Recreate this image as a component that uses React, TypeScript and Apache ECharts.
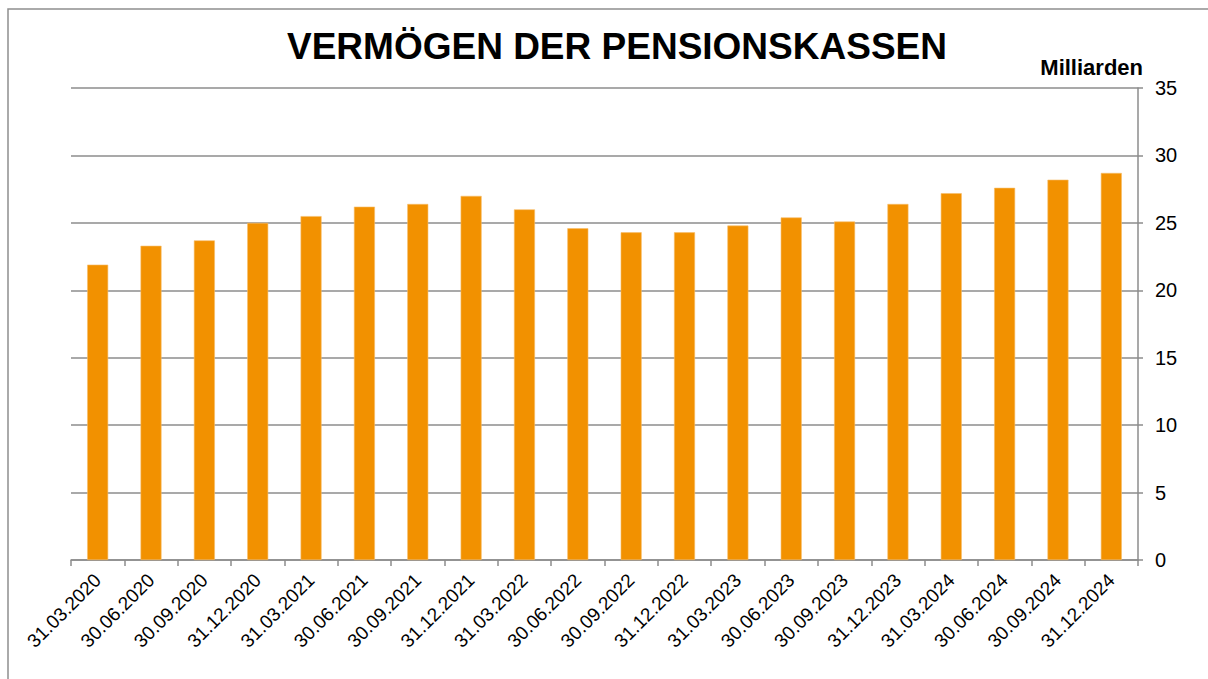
import React, { useEffect, useRef } from "react";
import * as echarts from "echarts";

const categories = [
  "31.03.2020", "30.06.2020", "30.09.2020", "31.12.2020",
  "31.03.2021", "30.06.2021", "30.09.2021", "31.12.2021",
  "31.03.2022", "30.06.2022", "30.09.2022", "31.12.2022",
  "31.03.2023", "30.06.2023", "30.09.2023", "31.12.2023",
  "31.03.2024", "30.06.2024", "30.09.2024", "31.12.2024",
];

const values = [
  21.9, 23.3, 23.7, 25.0,
  25.5, 26.2, 26.4, 27.0,
  26.0, 24.6, 24.3, 24.3,
  24.8, 25.4, 25.1, 26.4,
  27.2, 27.6, 28.2, 28.7,
];

const titleText = "VERMÖGEN DER PENSIONSKASSEN";
const unitText = "Milliarden";

const FONT = "'Liberation Sans', Arial, Helvetica, sans-serif";

export default function App() {
  const ref = useRef<HTMLDivElement>(null);

  useEffect(() => {
    if (!ref.current) return;
    const chart = echarts.init(ref.current, null, { renderer: "svg" });
    chart.setOption({
      animation: false,
      backgroundColor: "#ffffff",
      grid: { left: 71, right: 70, top: 88, bottom: 119, containLabel: false },
      graphic: [
        {
          type: "rect",
          shape: { x: 8, y: 9, width: 1400, height: 1000 },
          style: { fill: "none", stroke: "#8f8f8f", lineWidth: 1.5 },
          silent: true,
        },
        {
          type: "text",
          style: {
            x: 617,
            y: 46,
            text: titleText,
            font: `bold 37px ${FONT}`,
            fill: "#000000",
            textAlign: "center",
            textVerticalAlign: "middle",
          },
        },
        {
          type: "text",
          style: {
            x: 1143,
            y: 67,
            text: unitText,
            font: `bold 22px ${FONT}`,
            fill: "#000000",
            textAlign: "right",
            textVerticalAlign: "middle",
          },
        },
      ],
      xAxis: {
        type: "category",
        data: categories,
        axisLine: { show: true, lineStyle: { color: "#8c8c8c", width: 1.5 } },
        axisTick: { show: true, length: 6, lineStyle: { color: "#8c8c8c", width: 1.5 } },
        axisLabel: {
          interval: 0,
          rotate: 45,
          margin: 17,
          fontSize: 19,
          fontFamily: FONT,
          color: "#000000",
        },
        splitLine: { show: false },
      },
      yAxis: {
        type: "value",
        position: "right",
        min: 0,
        max: 35,
        interval: 5,
        axisLine: { show: true, lineStyle: { color: "#8c8c8c", width: 1.5 } },
        axisTick: { show: true, length: 5, lineStyle: { color: "#8c8c8c", width: 1.5 } },
        axisLabel: {
          margin: 17,
          fontSize: 20,
          fontFamily: FONT,
          color: "#000000",
        },
        splitLine: { show: true, lineStyle: { color: "#8c8c8c", width: 1.5 } },
      },
      series: [
        {
          type: "bar",
          data: values,
          barWidth: 21,
          itemStyle: { color: "#F29100", borderColor: "#F7BE6A", borderWidth: 0.6 },
        },
      ],
    });
    return () => chart.dispose();
  }, []);

  return (
    <div
      ref={ref}
      style={{ position: "fixed", left: 0, top: 0, width: 1208, height: 679 }}
    />
  );
}
